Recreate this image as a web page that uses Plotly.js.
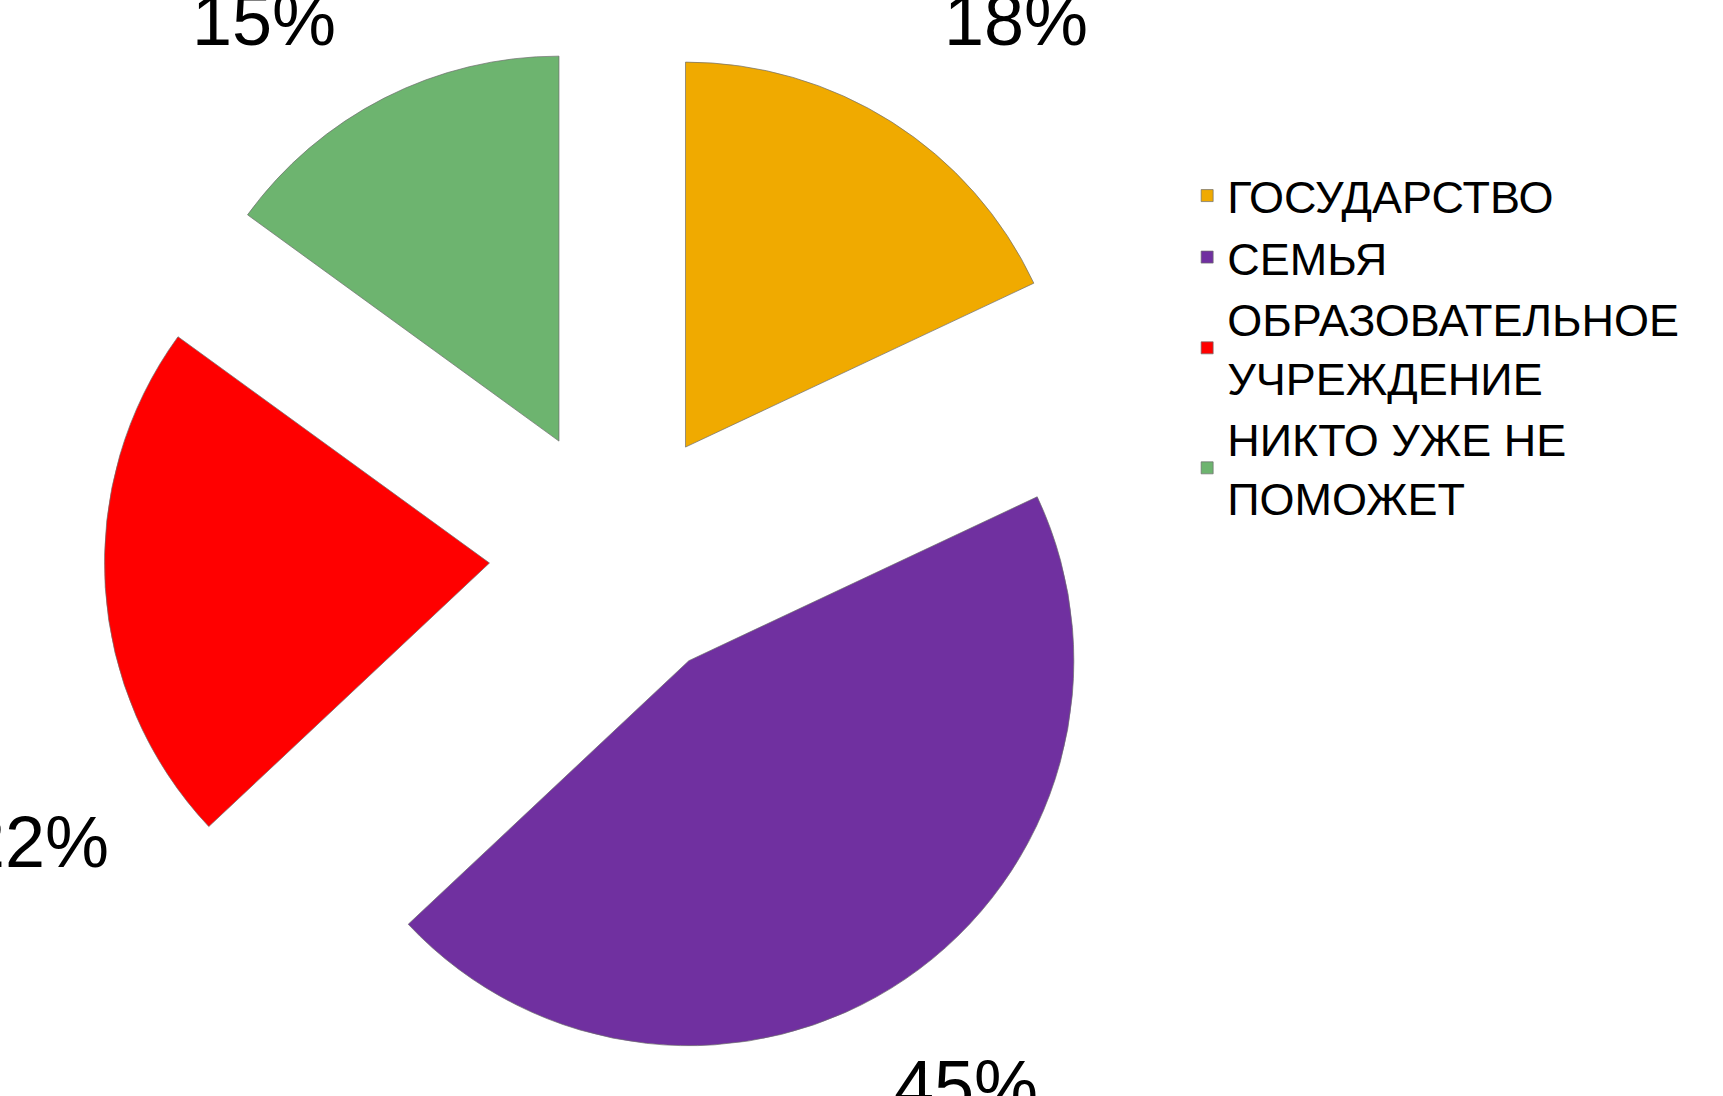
<!DOCTYPE html>
<html>
<head>
<meta charset="utf-8">
<script src="https://cdn.plot.ly/plotly-3.0.1.min.js"></script>
<style>
  html, body { margin: 0; padding: 0; background: #ffffff; }
  #chart { width: 1723px; height: 1096px; }
</style>
</head>
<body>
<div id="chart"></div>
<script>
// ---- data ----
var categories = [
  'ГОСУДАРСТВО',
  'СЕМЬЯ',
  'ОБРАЗОВАТЕЛЬНОЕ<br>УЧРЕЖДЕНИЕ',
  'НИКТО УЖЕ НЕ<br>ПОМОЖЕТ'
];
var shares = [18, 45, 22, 15];
var sliceColors = ['#F0AA00', '#7030A0', '#FF0000', '#6DB46F'];

// ---- label placement (paper coordinates, one per slice) ----
var labelX = [0.5897, 0.5607, 0.0214, 0.1532];
var labelY = [0.9820, 0.009, 0.2318, 0.9820];

var total = shares.reduce(function (a, b) { return a + b; }, 0);
var annotations = shares.map(function (v, i) {
  return {
    xref: 'paper', yref: 'paper',
    x: labelX[i], y: labelY[i],
    xanchor: 'center', yanchor: 'middle',
    showarrow: false,
    text: Math.round(v / total * 100) + '%',
    font: { family: 'Liberation Sans, Arial, sans-serif', size: 72, color: '#000000' }
  };
});

var trace = {
  type: 'pie',
  labels: categories,
  values: shares,
  sort: false,
  direction: 'clockwise',
  rotation: 0,
  pull: [0.332, 0.332, 0.332, 0.332],
  marker: { colors: sliceColors, line: { color: 'rgba(110,110,110,0.7)', width: 1 } },
  textinfo: 'none',
  hoverinfo: 'skip',
  domain: { x: [0.06048, 0.65572], y: [0.02573, 0.96150] }
};

var layout = {
  width: 1723,
  height: 1096,
  margin: { l: 0, r: 0, t: 0, b: 0 },
  paper_bgcolor: '#ffffff',
  plot_bgcolor: '#ffffff',
  showlegend: true,
  legend: {
    x: 0.689, xanchor: 'left',
    y: 0.684, yanchor: 'middle',
    bgcolor: 'rgba(0,0,0,0)',
    font: { family: 'Liberation Sans, Arial, sans-serif', size: 45, color: '#000000' },
    itemclick: false, itemdoubleclick: false
  },
  annotations: annotations
};

Plotly.newPlot('chart', [trace], layout, { displayModeBar: false, staticPlot: true });
</script>
</body>
</html>
